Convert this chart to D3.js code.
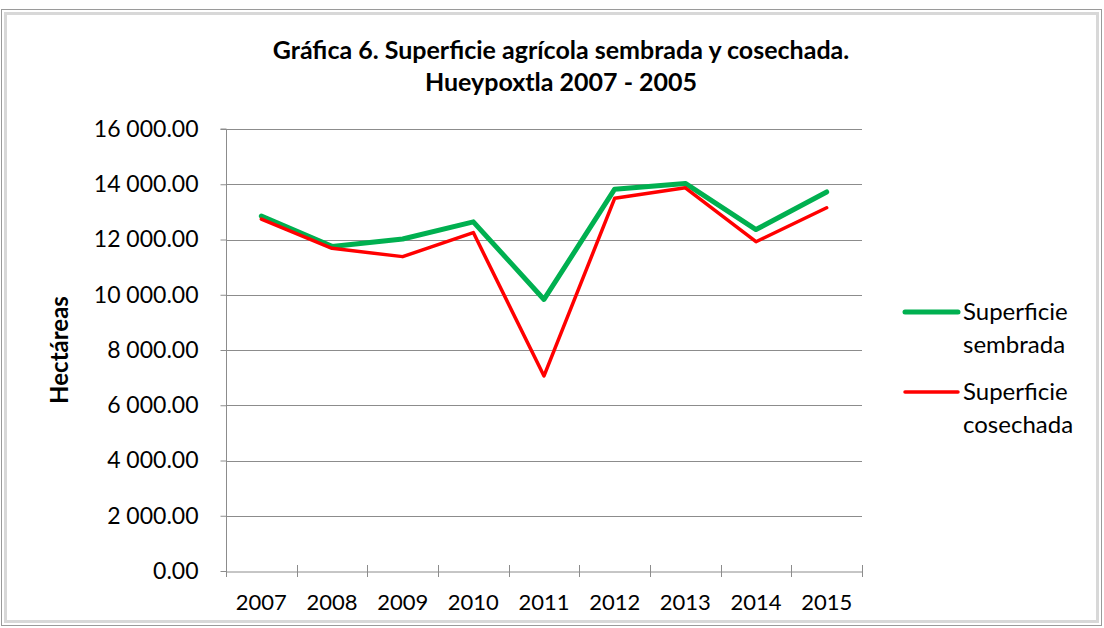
<!DOCTYPE html>
<html><head><meta charset="utf-8">
<script src="https://cdn.jsdelivr.net/npm/d3@7/dist/d3.min.js"></script>
<style>body{margin:0;background:#fff;} svg{display:block;font-family:Lato,"Open Sans",sans-serif;}</style>
</head><body>
<svg id="c" width="1104" height="628"></svg>
<script>
const years = ["2007","2008","2009","2010","2011","2012","2013","2014","2015"];
const sembrada = [12850, 11750, 12020, 12640, 9830, 13820, 14030, 12360, 13720];
const cosechada = [12740, 11680, 11380, 12250, 7060, 13490, 13870, 11920, 13150];
const yTicks = [0,2000,4000,6000,8000,10000,12000,14000,16000];
const seriesNames = [["Superficie","sembrada"],["Superficie","cosechada"]];
const colors = ["#00b050","#ff0000"];
const widths = [5, 3.5];

const svg = d3.select("#c");
// frame
svg.append("rect").attr("x",1.5).attr("y",9.5).attr("width",1100).attr("height",616)
  .attr("fill","#fff").attr("stroke","#9a9a9a").attr("stroke-width",1);
svg.append("rect").attr("x",5.5).attr("y",13.5).attr("width",1092).attr("height",608)
  .attr("fill","none").attr("stroke","#d8d8d8").attr("stroke-width",3);

const L=226, R=862, T=129, B=571;
const x = d3.scaleBand().domain(years).range([L,R]);
const y = d3.scaleLinear().domain([0,16000]).range([B,T]);
const fmt = v => d3.format(",.2f")(v).replace(/,/g," ");

// gridlines
svg.append("g").selectAll("line").data(yTicks.filter(d=>d>0)).join("line")
  .attr("x1",L).attr("x2",R).attr("y1",d=>Math.round(y(d))+0.5).attr("y2",d=>Math.round(y(d))+0.5)
  .attr("stroke","#8c8c8c").attr("stroke-width",1);

// y axis
const ya = svg.append("g").attr("transform",`translate(${L+0.5},0)`)
  .call(d3.axisLeft(y).tickValues(yTicks).tickFormat(fmt).tickSize(6).tickPadding(22));
ya.select(".domain").attr("stroke","#8c8c8c").attr("d",`M-6,${T}H0V${B}`);
ya.selectAll(".tick line").attr("stroke","#8c8c8c");
ya.selectAll("text").attr("font-size",23).attr("fill","#000").attr("font-family","Lato");

// x axis
const xa = svg.append("g").attr("transform",`translate(0,${Math.round(B)+0.5})`)
  .call(d3.axisBottom(x).tickSize(0).tickPadding(23));
xa.select(".domain").attr("stroke","#8c8c8c");
xa.selectAll("text").attr("font-size",22).attr("fill","#000").attr("font-family","Lato");
svg.append("g").selectAll("line").data(d3.range(years.length+1)).join("line")
  .attr("x1",i=>Math.round(L+i*x.step())+0.5).attr("x2",i=>Math.round(L+i*x.step())+0.5)
  .attr("y1",B-6).attr("y2",B+6).attr("stroke","#8c8c8c");

// lines
const line = d3.line().x((d,i)=>x(years[i])+x.bandwidth()/2).y(d=>y(d));
[sembrada,cosechada].forEach((s,k)=>{
  svg.append("path").datum(s).attr("d",line).attr("fill","none")
    .attr("stroke",colors[k]).attr("stroke-width",widths[k]).attr("stroke-linejoin","round").attr("stroke-linecap","round");
});

// title
const title = svg.append("text").attr("x",561).attr("text-anchor","middle")
  .attr("font-weight","bold").attr("font-size",25).attr("fill","#000");
title.append("tspan").attr("x",561).attr("y",59).text("Gráfica 6. Superficie agrícola sembrada y cosechada.");
title.append("tspan").attr("x",561).attr("y",91).text("Hueypoxtla 2007 - 2005");

// y label
svg.append("text").attr("transform","translate(68,350) rotate(-90)").attr("text-anchor","middle")
  .attr("font-weight","bold").attr("font-size",24).text("Hectáreas");

// legend
const ly = [312, 392];
seriesNames.forEach((n,k)=>{
  svg.append("line").attr("x1",905).attr("x2",958).attr("y1",ly[k]).attr("y2",ly[k])
    .attr("stroke",colors[k]).attr("stroke-width",widths[k]).attr("stroke-linecap","round");
  const t = svg.append("text").attr("font-size",24).attr("fill","#000");
  t.append("tspan").attr("x",963).attr("y",ly[k]+8).text(n[0]);
  t.append("tspan").attr("x",963).attr("y",ly[k]+41).text(n[1]);
});
</script>
</body></html>
